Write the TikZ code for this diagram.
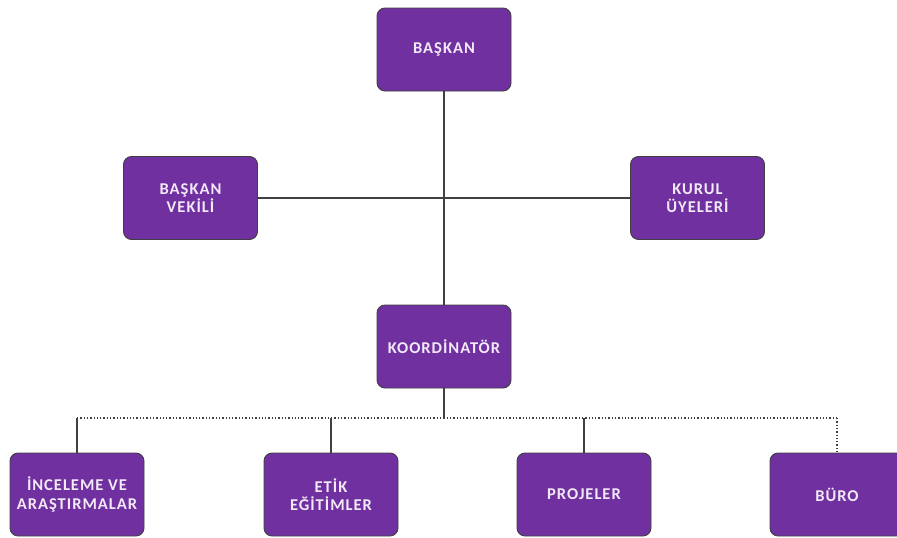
\documentclass[tikz,border=0pt]{standalone}
\usepackage{fontspec}
\setmainfont{Carlito}
\newfontfamily\kutuyazi[LetterSpace=6]{Carlito}
\definecolor{mor}{HTML}{7030A0}
\definecolor{yazi}{HTML}{F2E9F7}
\definecolor{cizgi}{HTML}{404040}

\begin{document}
\begin{tikzpicture}[x=1pt, y=-1pt]
\tikzset{kutu/.style={draw=cizgi, line width=0.9pt, fill=mor, rounded corners=8pt,
  minimum width=134pt, minimum height=83pt, text=yazi, align=center,
  font=\kutuyazi\bfseries\fontsize{16.5}{18.5}\selectfont, inner sep=2pt},
  bag/.style={draw=cizgi, line width=1.3pt},
  noktali/.style={draw=cizgi, line width=1.3pt, dotted}}
\useasboundingbox (0, 0) rectangle (897, 538);
\node[kutu] (baskan) at (444, 49.5) {BAŞKAN};
\node[kutu] (vekil) at (190.5, 198) {BAŞKAN\\VEKİLİ};
\node[kutu] (kurul) at (697.5, 198) {KURUL\\ÜYELERİ};
\node[kutu] (koord) at (444, 346.5) {KOORDİNATÖR};
\node[kutu] (inceleme) at (77, 494.5) {İNCELEME VE\\ARAŞTIRMALAR};
\node[kutu] (etik) at (331, 494.5) {ETİK\\EĞİTİMLER};
\node[kutu] (proje) at (584, 494.5) {PROJELER};
\node[kutu] (buro) at (837, 494.5) {BÜRO};
\coordinate (orta) at (444, 198);
\coordinate (dal) at (444, 418);
\draw[bag] (baskan) -- (koord);
\draw[bag] (vekil) -- (orta) -- (kurul);
\draw[bag] (koord) -- (dal);
\draw[noktali] (inceleme.north |- dal) -- (buro.north |- dal);
\draw[bag] (inceleme.north |- dal) -- (inceleme);
\draw[bag] (etik.north |- dal) -- (etik);
\draw[bag] (proje.north |- dal) -- (proje);
\draw[noktali] (buro.north |- dal) -- (buro);
\end{tikzpicture}
\end{document}
